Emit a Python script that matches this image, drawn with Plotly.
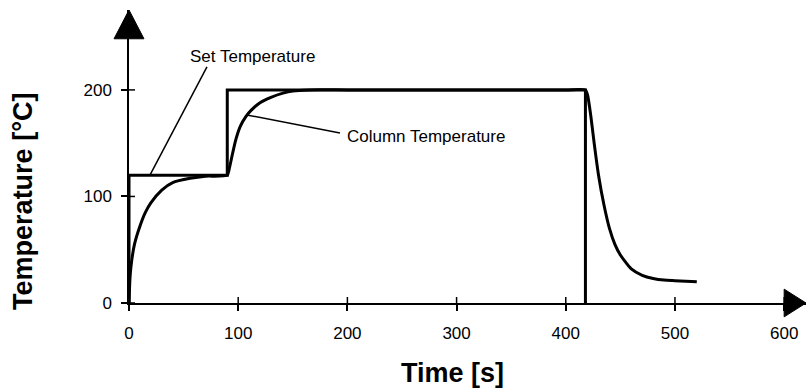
import plotly.graph_objects as go

# ---------------- data ----------------
set_time = [0, 0, 90, 90, 418, 418]
set_temp = [0, 120, 120, 200, 200, 0]

col_time = [0, 1, 2.5, 5, 10, 15, 20, 30, 40, 56, 70, 90,
            92, 95, 98, 102, 107, 112, 120, 130, 141, 150, 165, 200,
            300, 400, 418, 420, 423, 426, 430, 435, 440, 445, 450,
            460, 470, 480, 490, 500, 510, 520]
col_temp = [0, 25, 40, 55, 72, 85, 94, 106, 113, 117, 119, 120,
            127, 141, 154, 166, 175, 181, 188, 193, 197, 199, 200, 200,
            200, 200, 200, 195, 175, 150, 120, 92, 70, 55, 45,
            32, 26, 23, 21.5, 21, 20.5, 20]

x_ticks = [0, 100, 200, 300, 400, 500, 600]
y_ticks = [0, 100, 200]

x_range = [0, 620]
y_range = [0, 275]

FONT = "Liberation Sans, Arial, sans-serif"


def px(v):
    return (v - x_range[0]) / (x_range[1] - x_range[0])


def py(v):
    return (v - y_range[0]) / (y_range[1] - y_range[0])


fig = go.Figure()

fig.add_trace(go.Scatter(x=set_time, y=set_temp, mode="lines",
                         line=dict(color="black", width=3),
                         cliponaxis=False, showlegend=False, hoverinfo="skip"))
fig.add_trace(go.Scatter(x=col_time, y=col_temp, mode="lines",
                         line=dict(color="black", width=3, shape="spline", smoothing=0.6),
                         cliponaxis=False, showlegend=False, hoverinfo="skip"))

axis_common = dict(showgrid=False, zeroline=False, linecolor="black", linewidth=1.5,
                   tickcolor="black", tickwidth=1.5, ticklen=6,
                   tickfont=dict(family=FONT, size=17, color="black"))

fig.update_layout(
    width=806, height=388,
    margin=dict(l=129, r=0, t=10, b=85),
    paper_bgcolor="white", plot_bgcolor="white",
    xaxis=dict(range=x_range, tickvals=x_ticks, showline=True, ticks="outside",
               ticklabelstandoff=8, **axis_common),
    yaxis=dict(range=y_range, tickvals=y_ticks, showline=True, ticks="outside",
               ticklabelstandoff=6, **axis_common),
)

# inner half of the crossing tick marks, one per tick value
for t in x_ticks:
    fig.add_shape(type="line", xref="paper", yref="paper", ysizemode="pixel",
                  yanchor=py(0), x0=px(t), x1=px(t), y0=0, y1=6,
                  line=dict(color="black", width=1.5))
for t in y_ticks:
    fig.add_shape(type="line", xref="paper", yref="paper", xsizemode="pixel",
                  xanchor=px(0), y0=py(t), y1=py(t), x0=0, x1=6,
                  line=dict(color="black", width=1.5))

# arrowheads at the ends of the axes (paper coordinates so they are not clipped)
fig.add_shape(type="path", xref="paper", yref="paper",
              path=f"M {px(-13.7)},{py(248)} L {px(13.7)},{py(248)} L {px(0)},{py(275)} Z",
              fillcolor="black", line=dict(color="black", width=1))
fig.add_shape(type="path", xref="paper", yref="paper",
              path=f"M {px(600)},{py(-13)} L {px(600)},{py(13)} L {px(620)},{py(0)} Z",
              fillcolor="black", line=dict(color="black", width=1))

# leader lines of the labels
fig.add_shape(type="line", xref="x", yref="y", x0=71.4, y0=221.6, x1=19.2, y1=120,
              line=dict(color="black", width=1.5))
fig.add_shape(type="line", xref="x", yref="y", x0=107.8, y0=176.5, x1=193.2, y1=159.6,
              line=dict(color="black", width=1.5))

fig.add_annotation(x=54, y=231, xref="x", yref="y", text="Set Temperature",
                   showarrow=False, xanchor="left", yanchor="middle",
                   font=dict(family=FONT, size=17, color="black"))
fig.add_annotation(x=197.8, y=155.9, xref="x", yref="y", text="Column Temperature",
                   showarrow=False, xanchor="left", yanchor="middle",
                   font=dict(family=FONT, size=17, color="black"))

fig.add_annotation(x=296, y=-0.239, xref="x", yref="paper", text="<b>Time [s]</b>",
                   showarrow=False, xanchor="center", yanchor="middle",
                   font=dict(family=FONT, size=27, color="black"))
fig.add_annotation(x=-0.1566, y=95.8, xref="paper", yref="y", text="<b>Temperature [°C]</b>",
                   showarrow=False, xanchor="center", yanchor="middle", textangle=-90,
                   font=dict(family=FONT, size=27, color="black"))

fig.write_html("out.html")
